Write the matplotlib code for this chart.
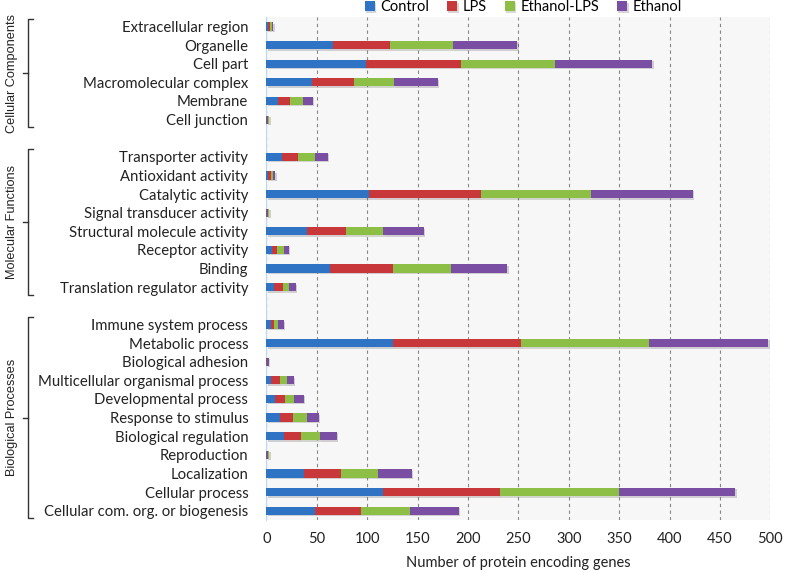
import matplotlib.pyplot as plt
import matplotlib.patheffects as pe
from matplotlib.transforms import blended_transform_factory
import numpy as np

# categories, top to bottom, None = spacer row between groups
categories = [
    "Extracellular region", "Organelle", "Cell part", "Macromolecular complex",
    "Membrane", "Cell junction", None,
    "Transporter activity", "Antioxidant activity", "Catalytic activity",
    "Signal transducer activity", "Structural molecule activity",
    "Receptor activity", "Binding", "Translation regulator activity", None,
    "Immune system process", "Metabolic process", "Biological adhesion",
    "Multicellular organismal process", "Developmental process",
    "Response to stimulus", "Biological regulation", "Reproduction",
    "Localization", "Cellular process", "Cellular com. org. or biogenesis",
]

control = [2, 66, 99, 45, 12, 1, 0,
           15, 2, 102, 1, 40, 6, 63, 8, 0,
           5, 126, 1, 5, 9, 13, 17, 1, 37, 116, 48]
lps = [2, 57, 94, 42, 11, 1, 0,
       16, 3, 111, 1, 39, 5, 63, 8, 0,
       3, 127, 0.5, 8, 9, 13, 17, 1, 37, 116, 46]
ethanol_lps = [1.5, 62, 93, 40, 13, 0.5, 0,
               17, 2, 109, 0.5, 37, 6, 57, 6, 0,
               4, 127, 0.5, 7, 9, 14, 19, 0.5, 37, 118, 48]
ethanol = [1.5, 64, 97, 43, 10, 0.5, 0,
           13, 2, 101, 0.5, 40, 5, 56, 7, 0,
           5, 118, 0.5, 7, 10, 12, 17, 0.5, 33, 115, 49]

series = ["Control", "LPS", "Ethanol-LPS", "Ethanol"]
colors = ["#2F74C4", "#C8373A", "#8DBE45", "#7A4EA2"]

groups = [("Cellular Components", 0, 5),
          ("Molecular Functions", 7, 14),
          ("Biological Processes", 16, 26)]

plt.rcParams['font.family'] = ['Lato', 'DejaVu Sans']

fig = plt.figure(figsize=(8, 5.73), dpi=100)
ax = fig.add_axes([0.333, 0.0925, 0.63, 0.8775])
ax.set_facecolor("#F7F7F7")

y = np.arange(len(categories))
left = np.zeros(len(categories))
shadow = [pe.SimplePatchShadow(offset=(1, -1), alpha=0.18), pe.Normal()]
for name, vals, c in zip(series, [control, lps, ethanol_lps, ethanol], colors):
    vals = np.array(vals, dtype=float)
    bars = ax.barh(y, vals, left=left, height=0.44, color=c, label=name, zorder=3)
    for b in bars:
        b.set_path_effects(shadow)
    left += vals

ax.set_ylim(len(categories) - 0.5, -0.5)
ax.set_xlim(0, 500)
ax.set_xticks(range(0, 501, 50))
ax.set_yticks([i for i, c in enumerate(categories) if c])
ax.set_yticklabels([c for c in categories if c], fontsize=10.7, color="#222222")
ax.tick_params(axis="y", length=0, pad=13)
ax.tick_params(axis="x", length=0, pad=9, labelsize=10.5, colors="#222222")
ax.xaxis.grid(True, linestyle=(0, (3, 3)), color="#888888", linewidth=0.8, zorder=0)
for s in ["top", "right", "bottom"]:
    ax.spines[s].set_visible(False)
ax.spines["left"].set_color("#BDD7EE")
ax.set_xlabel("Number of protein encoding genes", fontsize=10.5, color="#222222", labelpad=7)

# group brackets on the left
tr = blended_transform_factory(fig.transFigure, ax.transData)
bx = 0.035
for label, i0, i1 in groups:
    top, bot = i0 - 0.4, i1 + 0.4
    ax.plot([bx + 0.006, bx, bx, bx + 0.006], [top, top, bot, bot], transform=tr,
            color="#333333", linewidth=1.0, clip_on=False)
    mid = (top + bot) / 2
    ax.plot([bx, bx - 0.006], [mid, mid], transform=tr, color="#333333",
            linewidth=1.0, clip_on=False)
    ax.text(0.015, mid, label, transform=tr, rotation=90, ha="center", va="center",
            fontsize=9.2, family=["Liberation Sans"], color="#222222")

ax.legend(loc="upper center", bbox_to_anchor=(0.51, 1.045), ncol=4, frameon=False,
          fontsize=10.5, handlelength=0.7, handleheight=0.7, handletextpad=0.4,
          columnspacing=1.2, borderaxespad=0)

fig.savefig("out.png", dpi=100)
